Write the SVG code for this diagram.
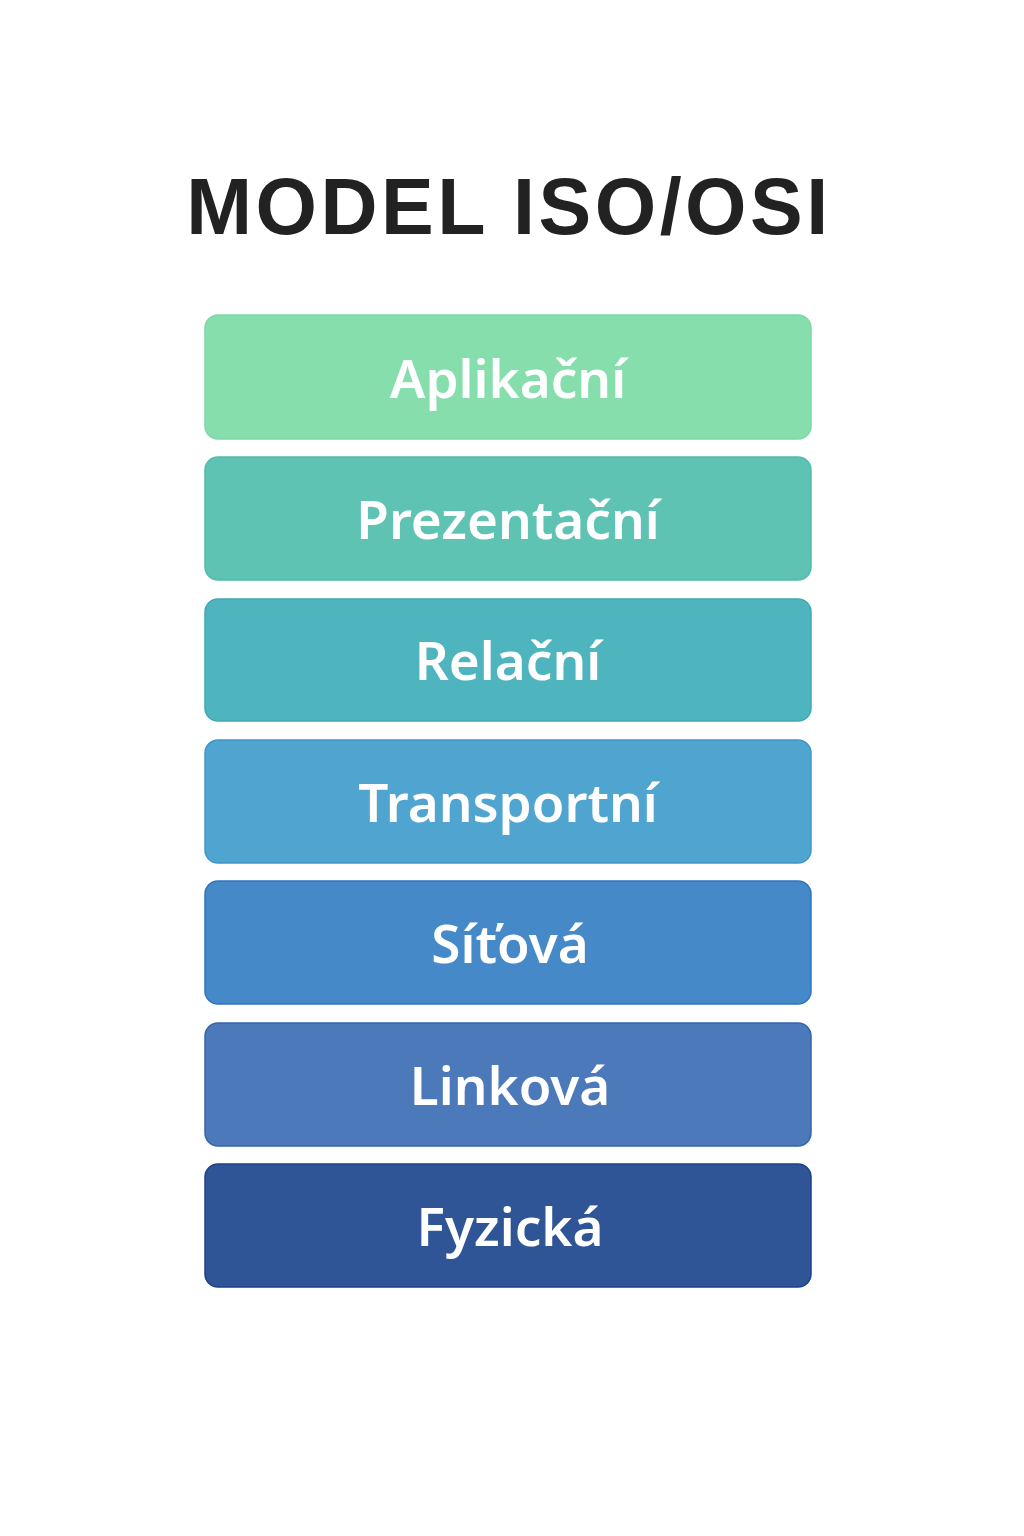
<svg xmlns="http://www.w3.org/2000/svg" width="1024" height="1536" viewBox="0 0 1024 1536">
<style>
.box{stroke-width:1.5}
.lbl{font-family:"Noto Sans","Open Sans",sans-serif;font-weight:600;font-size:53px;fill:#ffffff;text-anchor:middle}
.title{font-family:"Liberation Sans","Noto Sans",sans-serif;font-weight:700;font-size:79px;fill:#222222;text-anchor:middle;letter-spacing:3.5px}
</style>
<rect width="1024" height="1536" fill="#ffffff"/>
<text class="title" x="509" y="234">MODEL ISO/OSI</text>
<g id="layer7"><rect class="box" x="205" y="315" width="606" height="124" rx="13" fill="#87DEAD" stroke="#7DD8A6"/><text class="lbl" x="508" y="398">Aplikační</text></g>
<g id="layer6"><rect class="box" x="205" y="457" width="606" height="123" rx="13" fill="#5FC3B4" stroke="#52BBAB"/><text class="lbl" x="508" y="539">Prezentační</text></g>
<g id="layer5"><rect class="box" x="205" y="599" width="606" height="122" rx="13" fill="#4EB5BE" stroke="#40A9B4"/><text class="lbl" x="508" y="680">Relační</text></g>
<g id="layer4"><rect class="box" x="205" y="740" width="606" height="123" rx="13" fill="#4FA4D0" stroke="#3E98C8"/><text class="lbl" x="508" y="822">Transportní</text></g>
<g id="layer3"><rect class="box" x="205" y="881" width="606" height="123" rx="13" fill="#4589C8" stroke="#2F74BC"/><text class="lbl" x="510" y="963">Síťová</text></g>
<g id="layer2"><rect class="box" x="205" y="1023" width="606" height="123" rx="13" fill="#4B79B9" stroke="#3465AC"/><text class="lbl" x="510" y="1105">Linková</text></g>
<g id="layer1"><rect class="box" x="205" y="1164" width="606" height="123" rx="13" fill="#2F5597" stroke="#1E4088"/><text class="lbl" x="510" y="1246">Fyzická</text></g>
<g id="connectors"></g>
</svg>
